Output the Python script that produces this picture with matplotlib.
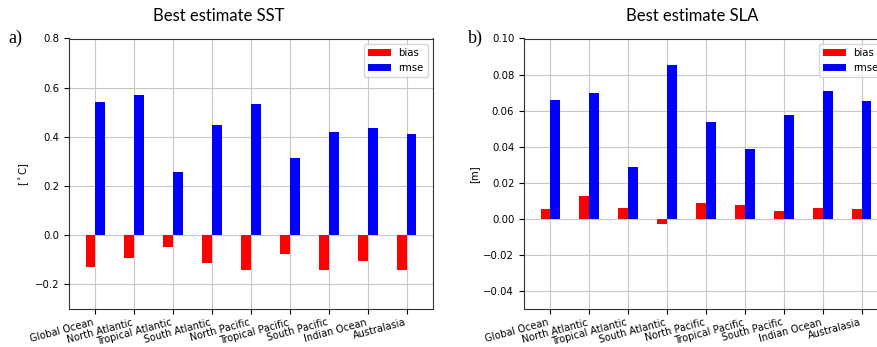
import numpy as np
import matplotlib
matplotlib.use("Agg")
import matplotlib.pyplot as plt

regions = ["Global Ocean", "North Atlantic", "Tropical Atlantic", "South Atlantic",
           "North Pacific", "Tropical Pacific", "South Pacific", "Indian Ocean", "Australasia"]

sst_bias = [-0.129, -0.093, -0.049, -0.114, -0.141, -0.076, -0.143, -0.103, -0.141]
sst_rmse = [0.542, 0.572, 0.257, 0.450, 0.532, 0.314, 0.418, 0.435, 0.411]

sla_bias = [0.0055, 0.0129, 0.0059, -0.0029, 0.0088, 0.0079, 0.0046, 0.0061, 0.0055]
sla_rmse = [0.0659, 0.0696, 0.0289, 0.0853, 0.0538, 0.0389, 0.0575, 0.0709, 0.0654]

W, H = 878, 347
fig = plt.figure(figsize=(W / 100, H / 100), dpi=100)

def px_axes(x0, y0, x1, y1):
    return fig.add_axes([x0 / W, 1 - y1 / H, (x1 - x0) / W, (y1 - y0) / H])

ax1 = px_axes(69, 38.5, 433, 309)
ax2 = px_axes(524, 38.5, 888, 309)

panels = [
    (ax1, sst_bias, sst_rmse, (-0.3, 0.8), np.arange(-0.2, 0.81, 0.2), "%.1f",
     r"[$^\circ$C]", "Best estimate SST", "a)"),
    (ax2, sla_bias, sla_rmse, (-0.05, 0.10), np.arange(-0.04, 0.101, 0.02), "%.2f",
     "[m]", "Best estimate SLA", "b)"),
]

x = np.arange(len(regions))
w = 0.25
for ax, bias, rmse, ylim, yt, fmt, ylab, title, letter in panels:
    ax.set_axisbelow(True)
    ax.grid(True, color="#c8c8c8", linewidth=0.8)
    ax.bar(x - w, bias, width=w, align="edge", color="red", label="bias")
    ax.bar(x, rmse, width=w, align="edge", color="blue", label="rmse")
    ax.set_ylim(*ylim)
    ax.set_yticks(yt)
    ax.set_yticklabels([(fmt % v).replace("-", "\u2212") for v in yt])
    ax.set_xticks(x)
    ax.set_xticklabels(regions, rotation=15, ha="right", fontsize=7.0)
    ax.tick_params(axis="x", pad=2.5)
    ax.tick_params(axis="y", labelsize=7.3)
    ax.set_ylabel(ylab, fontsize=7.3, labelpad=3)
    ax.legend(loc="upper right", fontsize=7.3, handlelength=2.2, framealpha=0.8)
    for s in ax.spines.values():
        s.set_color("#333333")

fig.text(219 / W, 1 - 16 / H, "Best estimate SST", ha="center", va="center",
         fontsize=12, family="Lato")
fig.text(692 / W, 1 - 16 / H, "Best estimate SLA", ha="center", va="center",
         fontsize=12, family="Lato")
fig.text(8 / W, 1 - 38 / H, "a)", ha="left", va="center", fontsize=13,
         family="Liberation Serif")
fig.text(468 / W, 1 - 38 / H, "b)", ha="left", va="center", fontsize=13,
         family="Liberation Serif")

fig.savefig("out.png", dpi=100)
